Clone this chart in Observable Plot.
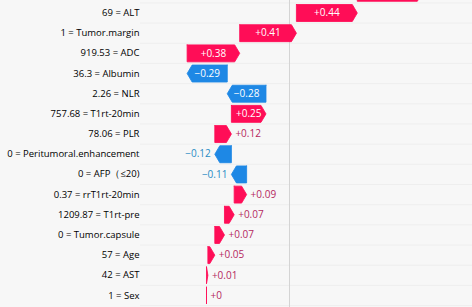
<!DOCTYPE html>
<html>
<head>
<meta charset="utf-8">
<script src="https://cdn.jsdelivr.net/npm/d3@7"></script>
<script src="https://cdn.jsdelivr.net/npm/@observablehq/plot@0.6"></script>
<style>
  html, body { margin: 0; padding: 0; background: #f7f7f7; overflow: hidden; }
  #chart { width: 472px; height: 307px; overflow: hidden; }
  svg { display: block; }
</style>
</head>
<body>
<div id="chart"></div>
<script>
// Features, top to bottom (first row is cut off by the top edge of the picture)
const features = ["", "ALT", "Tumor.margin", "ADC", "Albumin", "NLR", "T1rt-20min", "PLR",
  "Peritumoral.enhancement", "AFP（≤20)", "rrT1rt-20min", "T1rt-pre", "Tumor.capsule", "Age", "AST", "Sex"];
const featureValues = ["", "69", "1", "919.53", "36.3", "2.26", "757.68", "78.06",
  "0", "0", "0.37", "1209.87", "0", "57", "42", "1"];
const shapValues = [0.47, 0.44, 0.41, 0.38, -0.29, -0.28, 0.25, 0.12,
  -0.12, -0.11, 0.09, 0.07, 0.07, 0.05, 0.01, 0];
const baseValue = -0.60;   // expected value where the waterfall starts (bottom)
const zeroLine = 0;

const posColor = "#ff0d57", negColor = "#1e88e5";
const posText = "#b5285f", negText = "#2a8cc4";

// Build waterfall from bottom row upward
const n = features.length;
const rows = [];
let cum = baseValue;
for (let i = n - 1; i >= 0; i--) {
  const v = shapValues[i];
  const start = cum, end = cum + v;
  cum = end;
  rows.push({i: i - 1, name: features[i], fval: featureValues[i], v, start, end});
}

const pxPerUnit = (289 - 206) / 0.6;
const headLen = 5 / pxPerUnit;
const half = 0.42;
const polys = [];
rows.forEach((r, k) => {
  const s = Math.sign(r.v) || 1;
  const h = Math.min(headLen, Math.abs(r.v));
  const body = r.end - s * h;
  const pts = [
    [r.start, r.i - half], [body, r.i - half], [r.end, r.i], [body, r.i + half],
    [r.start, r.i + half], [r.start, r.i - half]
  ];
  pts.forEach(([x, y]) => polys.push({x, y, id: k, pos: r.v >= 0}));
});

const fmtVal = v => v === 0 ? "+0" : (v > 0 ? "+" : "\u2212") + Math.abs(v).toFixed(2);
const insideThresh = 0.2;

const labeled = rows.filter(r => r.name !== "");
const inside = labeled.filter(r => Math.abs(r.v) >= insideThresh);
const outside = labeled.filter(r => Math.abs(r.v) < insideThresh);

const plot = Plot.plot({
  width: 472,
  height: 307,
  marginLeft: 140,
  marginRight: 0,
  marginTop: 0,
  marginBottom: 0,
  style: {background: "transparent", fontFamily: "'Open Sans', sans-serif", fontSize: "10px", overflow: "visible"},
  x: {domain: [baseValue, zeroLine], range: [206, 289], axis: null},
  y: {domain: [0, 14], range: [12.5, 295], axis: null},
  marks: [
    Plot.ruleY(d3.range(-0.5, 15, 1), {y: d => d, stroke: "#eeeeee", strokeWidth: 1}),
    Plot.ruleX([zeroLine], {stroke: "#d4d4d4", strokeWidth: 1}),
    Plot.line(polys, {x: "x", y: "y", z: "id",
      fill: d => d.pos ? posColor : negColor,
      stroke: d => d.pos ? posColor : negColor, strokeWidth: 1, strokeOpacity: 0.85, curve: "linear"}),
    Plot.text(inside, {x: d => (d.start + d.end) / 2, y: "i", text: d => fmtVal(d.v),
      fill: "white", fontSize: 10}),
    Plot.text(outside.filter(d => d.v >= 0), {x: "end", y: "i", text: d => fmtVal(d.v),
      fill: posText, textAnchor: "start", dx: 4, fontSize: 10}),
    Plot.text(outside.filter(d => d.v < 0), {x: "end", y: "i", text: d => fmtVal(d.v),
      fill: negText, textAnchor: "end", dx: -4, fontSize: 10}),
    Plot.text(labeled, {frameAnchor: "left", y: "i", text: d => d.fval + " = " + d.name,
      textAnchor: "end", dx: -1, fontSize: 9.5, ariaLabel: "feature-labels"})
  ]
});

// Style feature value (gray) and name (dark) separately
const g = plot.querySelector('g[aria-label="feature-labels"]');
if (g) {
  g.querySelectorAll("text").forEach(t => {
    const s = t.textContent;
    const idx = s.indexOf(" = ");
    if (idx < 0) return;
    const a = s.slice(0, idx + 3), b = s.slice(idx + 3);
    t.textContent = "";
    t.setAttribute("word-spacing", "1.2");
    const t1 = document.createElementNS("http://www.w3.org/2000/svg", "tspan");
    t1.setAttribute("fill", "#a6a6a6");
    t1.textContent = a;
    const t2 = document.createElementNS("http://www.w3.org/2000/svg", "tspan");
    t2.setAttribute("fill", "#2b2b2b");
    t2.setAttribute("font-weight", "600");
    t2.textContent = b;
    t.appendChild(t1); t.appendChild(t2);
  });
}
document.getElementById("chart").appendChild(plot);
</script>
</body>
</html>
